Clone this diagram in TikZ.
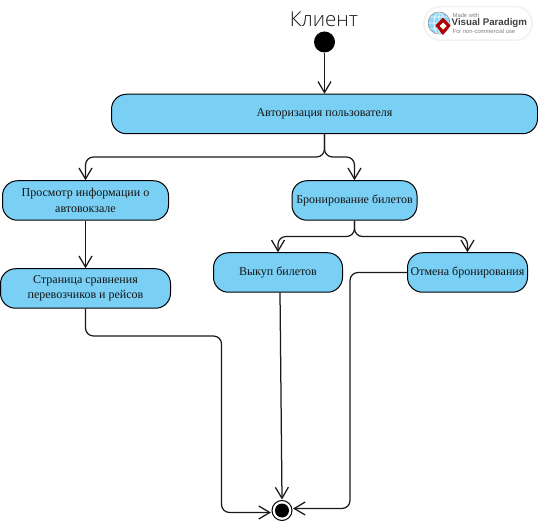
\documentclass[tikz,border=0pt]{standalone}
\usepackage{fontspec}
\setmainfont{Liberation Serif}
\newfontfamily\titlefont{Open Sans Light}
\newfontfamily\logofont{Liberation Sans}
\usetikzlibrary{arrows.meta}
\definecolor{boxblue}{HTML}{7ACFF5}
\tikzset{
  activity/.style={draw=black,line width=1pt,fill=boxblue,rounded corners=15pt,minimum height=39.5pt,inner sep=0pt,align=center,font=\fontsize{12}{15.5}\selectfont,text=black!92},
  flow/.style={draw=black!90,line width=1.25pt,rounded corners=8pt,-{Straight Barb[length=11pt,width=13pt,line width=1.25pt]}},
  logosmall/.style={inner sep=0pt,anchor=west,text=black!50,font=\logofont\fontsize{5.8}{7}\selectfont}
}
\begin{document}
\begin{tikzpicture}[x=1pt,y=-1pt]
\useasboundingbox (0,0) rectangle (538,526);
% activities
\node[activity,minimum width=426pt] (auth) at (324.5,114) {Авторизация пользователя};
\node[activity,minimum width=166pt] (view) at (85.5,200.5) {Просмотр информации о\\автовокзале};
\node[activity,minimum width=170pt] (compare) at (85.5,288.5) {Страница сравнения\\перевозчиков и рейсов};
\node[activity,minimum width=125pt] (book) at (354.5,200.5) {Бронирование билетов};
\node[activity,minimum width=129pt] (buy) at (278,272.5) {Выкуп билетов};
\node[activity,minimum width=120pt] (cancel) at (467.5,272.5) {Отмена бронирования};
% start and end
\node[circle,fill=black,minimum size=21pt,inner sep=0pt] (start) at (324.5,42) {};
\node[circle,draw=black,fill=white,line width=1pt,minimum size=20pt,inner sep=0pt] (final) at (282,510.5) {};
\node[circle,fill=black,minimum size=14pt,inner sep=0pt] at (final.center) {};
\node[font=\titlefont\fontsize{20.5}{24}\selectfont,text=black!90,inner sep=0pt] (title) at (324,19.5) {Клиент};
% connector ends and bends
\coordinate (j1) at (324.5,157);
\coordinate (j2) at (354.5,236.5);
\coordinate (c1) at (85.5,336);
\coordinate (c2) at (221.5,512.5);
\coordinate (c3) at (350,272.5);
\coordinate (c4) at (350,508.5);
\coordinate (finalW) at (271,512.5);
\coordinate (finalE) at (293,508.5);
\coordinate (finalN) at (282,499.5);
\coordinate (buyS) at (280,292.3);
% connectors
\draw[flow] (start) -- (auth);
\draw[flow] (auth.south) -- (j1) -| (view.north);
\draw[flow] (auth.south) -- (j1) -| (book.north);
\draw[flow] (view) -- (compare);
\draw[flow] (book.south) -- (j2) -| (buy.north);
\draw[flow] (book.south) -- (j2) -| (cancel.north);
\draw[flow] (compare.south) -- (c1) -- (c1 -| c2) -- (c2) -- (finalW);
\draw[flow] (buyS) -- (finalN);
\draw[flow] (cancel.west) -- (c3) -- (c4) -- (finalE);
% logo
\fill[black!5,rounded corners=17pt] (423,6) rectangle (533,41);
\fill[white,rounded corners=15.5pt] (425,7.5) rectangle (531,39.5);
\fill[boxblue!85!white] (439,23) circle (11);
\draw[white,line width=0.7pt] (428,23) -- (450,23) (439,12) -- (439,34) (439,23) ellipse (5 and 11) (430,17) -- (448,17) (430,29) -- (448,29);
\draw[black!45,line width=0.5pt] (439,23) circle (11);
\fill[red!70!black] (443,17.5) -- (450.5,25.5) -- (443,35) -- (435.5,25.5) -- cycle;
\fill[white] (443,22.5) -- (446.5,26) -- (443,29.5) -- (439.5,26) -- cycle;
\node[logosmall] (logoA) at (452.5,15) {Made with};
\node[inner sep=0pt,anchor=west,text=black!75,font=\logofont\bfseries\fontsize{9.7}{12}\selectfont] (logoB) at (451.5,23.3) {Visual Paradigm};
\node[logosmall] (logoC) at (452.5,31.5) {For non-commercial use};
\end{tikzpicture}
\end{document}
